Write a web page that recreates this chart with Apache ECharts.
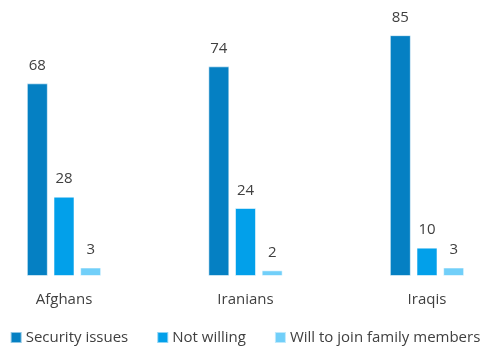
<!DOCTYPE html>
<html>
<head>
<meta charset="utf-8">
<script src="https://cdn.jsdelivr.net/npm/echarts@6/dist/echarts.min.js"></script>
<style>
  html, body { margin: 0; padding: 0; background: #fff; }
  #chart { width: 490px; height: 347px; }
</style>
</head>
<body>
<div id="chart"></div>
<script>
// Groups and the share (%) given for each reason
const categories = ['Afghans', 'Iranians', 'Iraqis'];
const securityIssues = [68, 74, 85];
const notWilling = [28, 24, 10];
const joinFamily = [3, 2, 3];
const seriesNames = ['Security issues', 'Not willing', 'Will to join family members'];
const colors = ['#0580c3', '#02a0ea', '#71cff9'];

const fontFamily = '"Open Sans", "Noto Sans", sans-serif';

function barSeries(name, data, color) {
  return {
    name: name,
    type: 'bar',
    data: data,
    barWidth: 21,
    barGap: '27%',
    itemStyle: { color: color, borderColor: 'rgba(255,255,255,0.55)', borderWidth: 1 },
    label: {
      show: true,
      position: 'top',
      distance: 10,
      color: '#404040',
      fontSize: 15,
      fontFamily: fontFamily
    }
  };
}

const chart = echarts.init(document.getElementById('chart'));
chart.setOption({
  animation: false,
  color: colors,
  // group centres sit on the left and right grid edges
  grid: { left: 64, right: 63, top: 21, bottom: 71, containLabel: false },
  legend: {
    bottom: -3,
    left: 'center',
    icon: 'rect',
    itemWidth: 11,
    itemHeight: 11,
    itemGap: 28,
    textStyle: { color: '#404040', fontSize: 15, fontFamily: fontFamily, padding: [0, 0, 0, -1] }
  },
  xAxis: {
    type: 'category',
    data: categories,
    boundaryGap: false,
    axisLine: { show: false },
    axisTick: { show: false },
    axisLabel: { color: '#404040', fontSize: 15, fontFamily: fontFamily, margin: 16 }
  },
  yAxis: {
    type: 'value',
    min: 0,
    max: 90,
    show: false,
    splitLine: { show: false }
  },
  series: [
    barSeries(seriesNames[0], securityIssues, colors[0]),
    barSeries(seriesNames[1], notWilling, colors[1]),
    barSeries(seriesNames[2], joinFamily, colors[2])
  ]
});
</script>
</body>
</html>
